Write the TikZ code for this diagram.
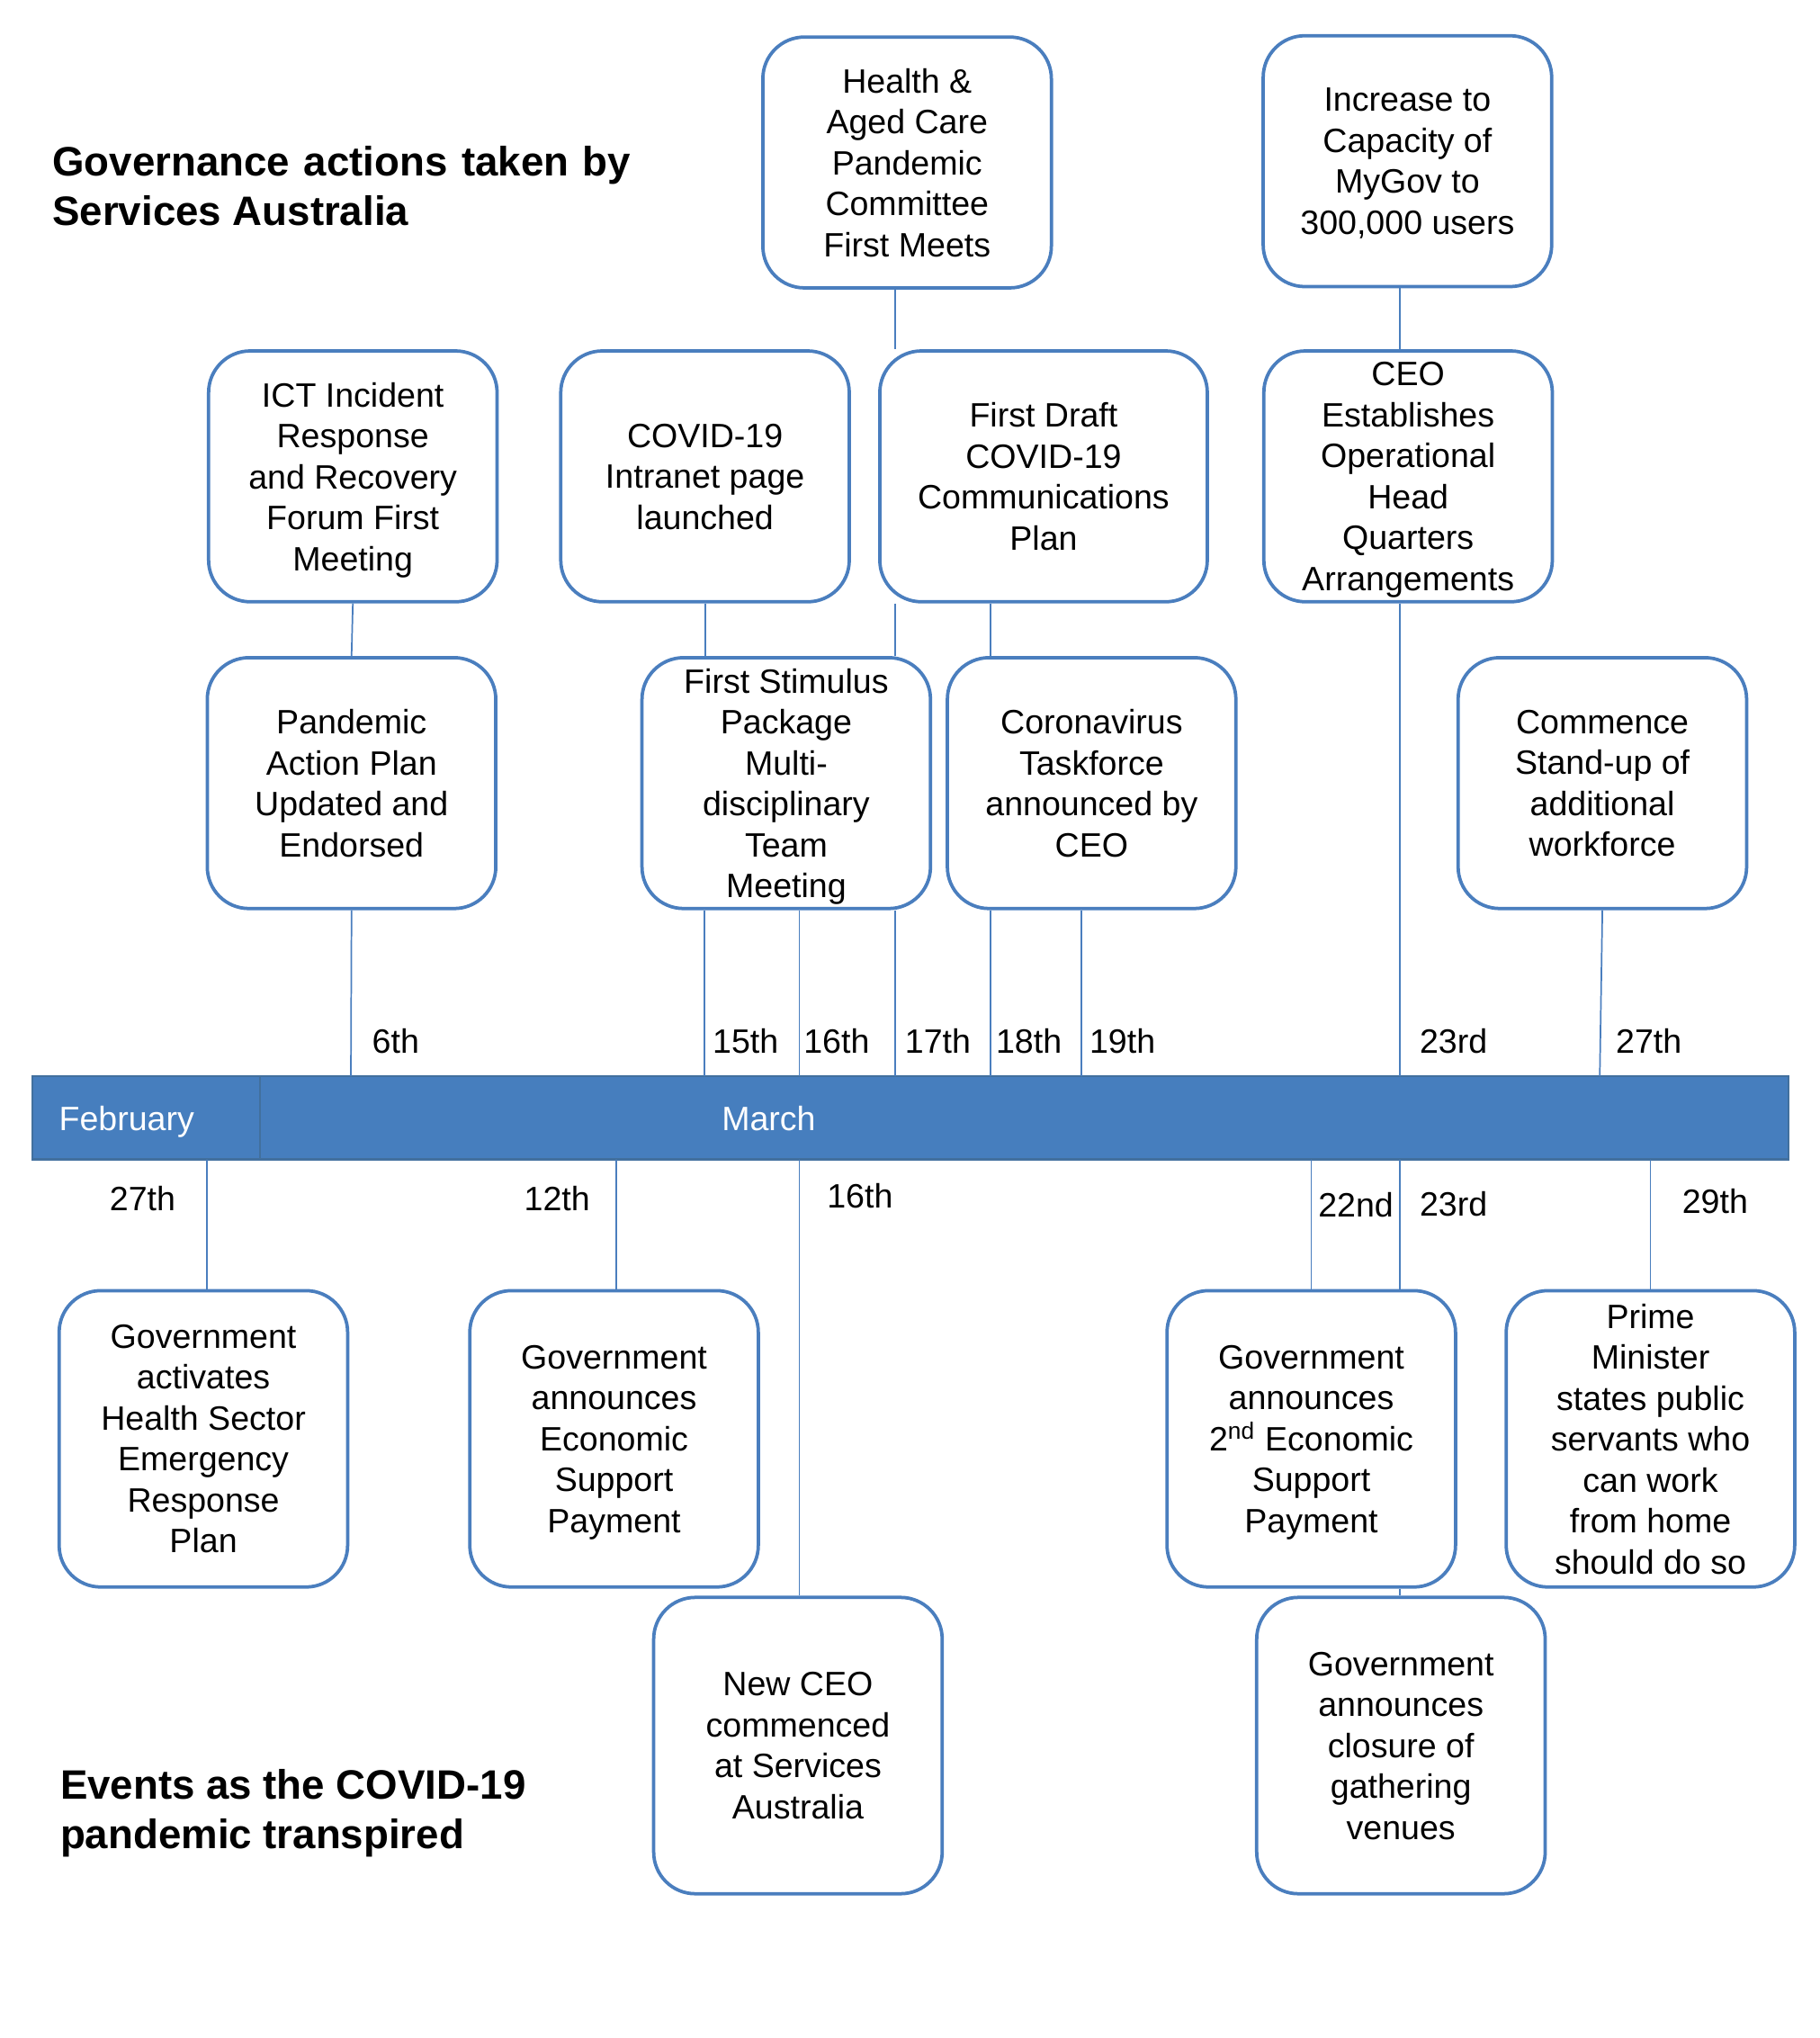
\documentclass[tikz,border=0pt]{standalone}
\usepackage{fontspec}
\setmainfont{Liberation Sans}
\usepackage{tikz}
\usetikzlibrary{positioning}

\definecolor{boxblue}{RGB}{74,126,190}
\definecolor{barblue}{RGB}{70,126,190}
\definecolor{baredge}{RGB}{66,112,158}

\tikzset{
	event/.style={draw=boxblue, line width=1.3pt, rounded corners=16pt, fill=white,
		align=center, inner sep=0pt, text depth=-1.5pt, minimum width=111pt, minimum height=96.5pt,
		font=\fontsize{13}{15.75}\selectfont},
	tall/.style={minimum height=114pt},
	link/.style={draw=boxblue, line width=0.6pt},
	day/.style={anchor=west, inner sep=0pt, font=\fontsize{13}{15.75}\selectfont},
	heading/.style={anchor=north west, align=left, inner sep=0pt,
		font=\fontsize{15.8}{19}\selectfont\bfseries},
	month/.style={anchor=base west, inner sep=0pt, text=white, font=\fontsize{13}{15.75}\selectfont}
}

\begin{document}
\begin{tikzpicture}[x=0.5pt, y=-0.5pt]

	\useasboundingbox (0,0) rectangle (1400,1568);

	% headings
	\node[heading] (govhead) at (40,112) {Governance\hspace{1pt} actions\hspace{1pt} taken\hspace{1pt} by\\Services Australia};
	\node[heading] (evthead) at (46,1361) {Events as the COVID-19\\pandemic transpired};

	% timeline bar
	\node[draw=baredge, line width=0.8pt, fill=barblue, minimum width=675.5pt, minimum height=32pt,
		inner sep=0pt] (bar) at (700.5,860) {};
	\node[draw=baredge, line width=0.8pt, fill=barblue, minimum width=87.5pt, minimum height=32pt,
		inner sep=0pt] (feb) at (112.5,860) {};
	\node[month] (febtxt) at (45,870) {February};
	\node[month] (martxt) at (555,870) {March};

	% tick points on the bar
	\foreach \n/\x in {6/270, 15/542, 16/615, 17/689, 18/762, 19/832, 23/1077, 27/1231}
		\coordinate (t\n) at (\x,828);
	\foreach \n/\x in {27/159, 12/474, 16/615, 22/1009, 23/1077, 29/1270}
		\coordinate (b\n) at (\x,892);

	% governance actions
	\node[event] (hac) at (698,125) {Health \&\\Aged Care\\Pandemic\\Committee\\First Meets};
	\node[event] (inc) at (1083,124) {Increase to\\Capacity of\\MyGov to\\300,000 users};
	\node[event] (ict) at (271.5,366.5) {ICT Incident\\Response\\and Recovery\\Forum First\\Meeting};
	\node[event] (itr) at (542.5,366.5) {COVID-19\\Intranet page\\launched};
	\node[event, minimum width=126pt] (fdc) at (803,366.5) {First Draft\\COVID-19\\Communications\\Plan};
	\node[event] (ceo) at (1083.5,366.5) {CEO\\Establishes\\Operational\\Head\\Quarters\\Arrangements};
	\node[event] (pap) at (270.5,602.5) {Pandemic\\Action Plan\\Updated and\\Endorsed};
	\node[event] (fsp) at (605,602.5) {First Stimulus\\Package\\Multi-\\disciplinary\\Team\\Meeting};
	\node[event] (ctf) at (840,602.5) {Coronavirus\\Taskforce\\announced by\\CEO};
	\node[event] (csu) at (1233,602.5) {Commence\\Stand-up of\\additional\\workforce};

	% pandemic events
	\node[event, tall] (gah) at (156.5,1107) {Government\\activates\\Health Sector\\Emergency\\Response\\Plan};
	\node[event, tall] (gae) at (472.5,1107) {Government\\announces\\Economic\\Support\\Payment};
	\node[event, tall] (ga2) at (1009,1107) {Government\\announces\\2\textsuperscript{nd} Economic\\Support\\Payment};
	\node[event, tall] (pms) at (1270,1107) {Prime\\Minister\\states public\\servants who\\can work\\from home\\should do so};
	\node[event, tall] (nce) at (614,1343) {New CEO\\commenced\\at Services\\Australia};
	\node[event, tall] (gcv) at (1078,1343) {Government\\announces\\closure of\\gathering\\venues};

	% links above the bar
	\draw[link] (ict.south) -- (pap.north);
	\draw[link] (pap.south) -- (t6);
	\draw[link] (itr.south) -- (itr.south |- fsp.north);
	\draw[link] (fsp.south -| t15) -- (t15);
	\draw[link] (fsp.south -| t16) -- (t16);
	\draw[link] (hac.south -| t17) -- (fdc.north -| t17);
	\draw[link] (fdc.south -| t17) -- (fsp.north -| t17);
	\draw[link] (fsp.south -| t17) -- (t17);
	\draw[link] (fdc.south -| t18) -- (ctf.north -| t18);
	\draw[link] (ctf.south -| t18) -- (t18);
	\draw[link] (ctf.south -| t19) -- (t19);
	\draw[link] (inc.south -| t23) -- (ceo.north -| t23);
	\draw[link] (ceo.south -| t23) -- (t23);
	\draw[link] (csu.south) -- (t27);

	% links below the bar
	\draw[link] (b27) -- (gah.north -| b27);
	\draw[link] (b12) -- (gae.north -| b12);
	\draw[link] (b16) -- (nce.north -| b16);
	\draw[link] (b22) -- (ga2.north -| b22);
	\draw[link] (b23) -- (ga2.north -| b23);
	\draw[link] (ga2.south -| b23) -- (gcv.north -| b23);
	\draw[link] (b29) -- (pms.north -| b29);

	% dates
	\foreach \n/\x/\txt in {6/286/6th, 15/548/15th, 16/618/16th, 17/696/17th, 18/766/18th,
		19/838/19th, 23/1092/23rd, 27/1243/27th}
		\node[day] (dt\n) at (\x,801) {\txt};
	\foreach \n/\x/\y/\txt in {27/84/922/27th, 12/403/922/12th, 16/636/920/16th,
		22/1014/927/22nd, 23/1092/926/23rd, 29/1294/924/29th}
		\node[day] (db\n) at (\x,\y) {\txt};

\end{tikzpicture}
\end{document}
